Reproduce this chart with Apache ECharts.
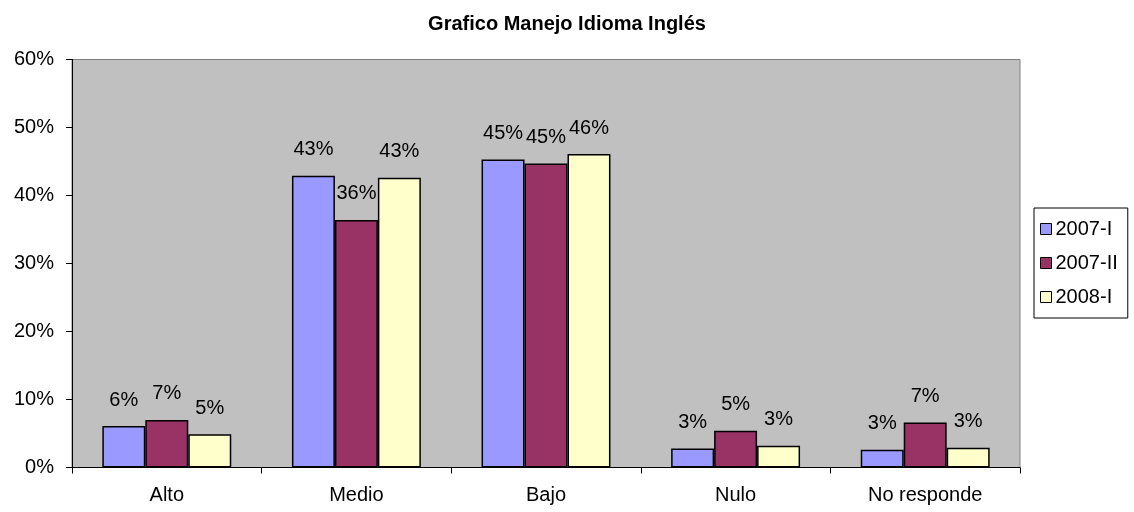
<!DOCTYPE html>
<html><head><meta charset="utf-8">
<script src="https://cdn.jsdelivr.net/npm/echarts@6/dist/echarts.min.js"></script>
<style>html,body{margin:0;padding:0;background:#fff}#c{width:1134px;height:512px}</style>
</head><body><div id="c"></div>
<script>
const categories = ['Alto', 'Medio', 'Bajo', 'Nulo', 'No responde'];
const seriesNames = ['2007-I', '2007-II', '2008-I'];
const s2007I = [6.1, 42.9, 45.3, 2.8, 2.6];
const s2007II = [7.0, 36.4, 44.7, 5.4, 6.6];
const s2008I = [4.9, 42.6, 46.1, 3.2, 2.9];
const yTicks = [0, 10, 20, 30, 40, 50, 60];
const colors = ['#9999FF', '#993366', '#FFFFCC'];
const FONT = '"Liberation Sans", Arial, sans-serif';

const chart = echarts.init(document.getElementById('c'), null, {renderer: 'canvas'});
const data = [s2007I, s2007II, s2008I];
chart.setOption({
  animation: false,
  title: {
    text: 'Grafico Manejo Idioma Inglés',
    left: 'center', top: 9,
    textStyle: {fontFamily: FONT, fontSize: 20, fontWeight: 'bold', color: '#000'}
  },
  legend: {
    orient: 'vertical',
    left: 1034, top: 208,
    data: seriesNames,
    icon: 'rect', itemWidth: 11, itemHeight: 11, itemGap: 14,
    borderColor: '#000', borderWidth: 1,
    padding: [11, 10, 11, 6],
    textStyle: {fontFamily: FONT, fontSize: 20, color: '#000', padding: [0, 0, 0, -1]},
    itemStyle: {borderColor: '#000', borderWidth: 1}
  },
  grid: {
    left: 72, right: 114, top: 59.5, bottom: 44.5,
    show: true, backgroundColor: '#C0C0C0', borderColor: '#808080', borderWidth: 1
  },
  xAxis: {
    type: 'category', data: categories,
    axisLine: {lineStyle: {color: '#000', width: 1}},
    axisTick: {show: true, alignWithLabel: false, length: 6, lineStyle: {color: '#000'}},
    axisLabel: {fontFamily: FONT, fontSize: 20, color: '#000', margin: 18}
  },
  yAxis: {
    type: 'value', min: yTicks[0], max: yTicks[yTicks.length - 1], interval: 10,
    axisLine: {show: true, lineStyle: {color: '#000', width: 1}},
    axisTick: {show: true, length: 6, lineStyle: {color: '#000'}},
    splitLine: {show: false},
    axisLabel: {fontFamily: FONT, fontSize: 20, color: '#000', margin: 18, formatter: '{value}%'}
  },
  series: seriesNames.map((n, i) => ({
    name: n, type: 'bar', data: data[i],
    barGap: '0%', barCategoryGap: '32%',
    itemStyle: {color: colors[i], borderColor: '#000', borderWidth: 1.5},
    label: {
      show: true, position: 'top', distance: 16,
      fontFamily: FONT, fontSize: 20, color: '#000',
      formatter: p => Math.round(p.value) + '%'
    }
  }))
});
</script></body></html>
